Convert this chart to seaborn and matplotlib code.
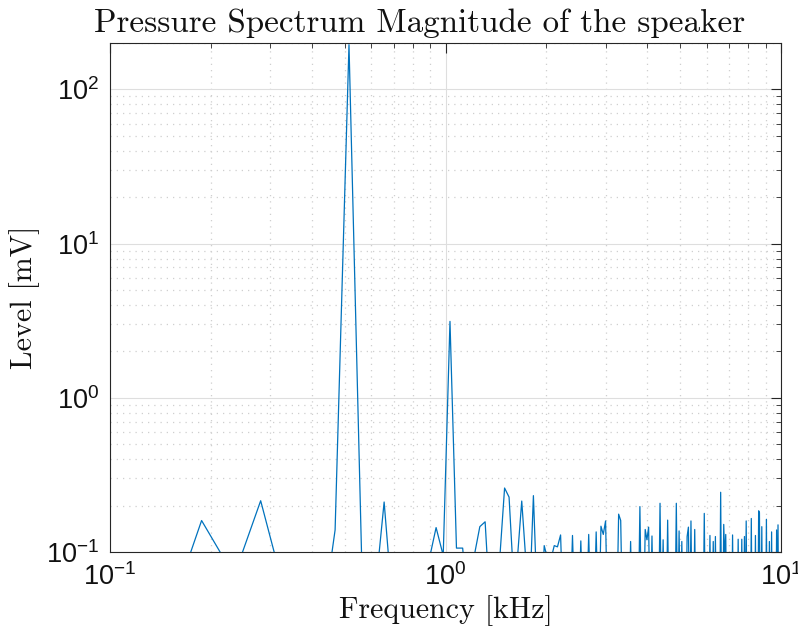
import numpy as np
import pandas as pd
import matplotlib
matplotlib.use("Agg")
import matplotlib.pyplot as plt
import seaborn as sns
from matplotlib.ticker import LogLocator, NullFormatter

# ---- data ----
bin_width_khz = 0.046875          # FFT bin spacing
n_bins = 213                       # bins up to 10 kHz
floor_mv = 0.03                    # level of bins hidden below the axis
peak_bins = [2, 3, 4, 5, 6, 7, 9, 10, 11, 12, 13, 14, 15,
             19, 20, 21, 22, 23, 24, 25, 26, 27, 28, 29,
             31, 32, 33, 34, 35, 36, 37, 38, 39, 40,
             42, 43, 44, 45, 46, 47, 51, 54, 57, 60, 62, 63, 64,
             70, 71, 76, 81, 84, 85, 86, 88, 93, 95, 98,
             104, 106, 108, 112, 113, 115, 118, 126, 131, 134, 136,
             141, 144, 145, 146, 153, 159, 163, 166, 168, 174, 179,
             183, 184, 187, 193, 197, 200, 207, 209]
peak_levels = [0.02, 0.026, 0.16, 0.07, 0.215, 0.06, 0.027, 0.139, 195.0, 0.09, 0.041, 0.211, 0.033,
               0.086, 0.144, 0.095, 3.13, 0.106, 0.106, 0.04, 0.095, 0.146, 0.157, 0.042,
               0.095, 0.26, 0.227, 0.07, 0.095, 0.214, 0.09, 0.05, 0.232, 0.05,
               0.11, 0.09, 0.09, 0.11, 0.108, 0.129, 0.128, 0.118, 0.13, 0.135, 0.147, 0.13, 0.159,
               0.176, 0.16, 0.117, 0.197, 0.14, 0.12, 0.145, 0.127, 0.207, 0.12, 0.161,
               0.207, 0.137, 0.117, 0.126, 0.145, 0.159, 0.14, 0.178, 0.128, 0.117, 0.126,
               0.244, 0.151, 0.09, 0.13, 0.129, 0.121, 0.121, 0.126, 0.159, 0.165, 0.128,
               0.185, 0.18, 0.146, 0.163, 0.117, 0.135, 0.139, 0.15]

bins = np.arange(1, n_bins + 1)
level = np.full(n_bins, floor_mv)
for b, v in zip(peak_bins, peak_levels):
    level[b - 1] = v
df = pd.DataFrame({"freq": bins * bin_width_khz, "level": level})

# ---- style ----
sns.set_theme(style="white")
plt.rcParams["font.family"] = ["Liberation Sans", "DejaVu Sans"]
plt.rcParams["mathtext.fontset"] = "custom"
plt.rcParams["mathtext.rm"] = "Liberation Sans"
plt.rcParams["mathtext.it"] = "Liberation Sans:italic"
plt.rcParams["mathtext.bf"] = "Liberation Sans:bold"

fig = plt.figure(figsize=(7.98, 6.38), dpi=100)
ax = fig.add_axes([110 / 798, 1 - 552 / 638, (781 - 110) / 798, (552 - 43) / 638])

sns.lineplot(data=df, x="freq", y="level", ax=ax, color="#0072BD",
             linewidth=0.9, sort=False, estimator=None)

ax.set_xscale("log")
ax.set_yscale("log")
ax.set_xlim(0.1, 10)
ax.set_ylim(0.1, 200)

ax.xaxis.set_major_locator(LogLocator(base=10, numticks=10))
ax.yaxis.set_major_locator(LogLocator(base=10, numticks=10))
ax.xaxis.set_minor_locator(LogLocator(base=10, subs=np.arange(2, 10), numticks=100))
ax.yaxis.set_minor_locator(LogLocator(base=10, subs=np.arange(2, 10), numticks=100))
ax.xaxis.set_minor_formatter(NullFormatter())
ax.yaxis.set_minor_formatter(NullFormatter())

axis_col = "#262626"
for s in ax.spines.values():
    s.set_color(axis_col)
    s.set_linewidth(0.8)
    s.set_visible(True)

ax.tick_params(which="both", direction="in", top=True, right=True,
               color=axis_col, labelcolor="#111111")
ax.tick_params(which="major", length=7, width=0.8, labelsize=19.5, pad=8)
ax.tick_params(which="minor", length=3.5, width=0.6)

ax.grid(which="major", color="#dedede", linestyle="-", linewidth=0.8)
ax.grid(which="minor", color="#cfcfcf", linestyle=(0, (1, 4)), linewidth=0.9)
ax.set_axisbelow(True)

serif = ["cmr10", "DejaVu Serif"]
ax.set_title("Pressure Spectrum Magnitude of the speaker", fontsize=23.8,
             family=serif, pad=8, color="#111111", x=(420 - 110) / 671)
ax.set_xlabel("Frequency [kHz]", fontsize=21.5, family=serif, color="#111111", labelpad=3)
ax.set_ylabel("Level [mV]", fontsize=21.5, family=serif, color="#111111", labelpad=4)

fig.savefig("out.png", dpi=100, facecolor="white")
